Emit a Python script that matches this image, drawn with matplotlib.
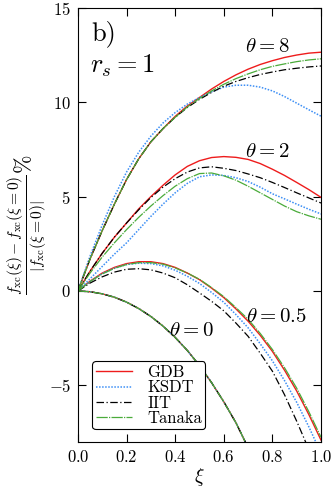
import numpy as np
import matplotlib
matplotlib.use("Agg")
import matplotlib.pyplot as plt

plt.rcParams['font.family'] = 'serif'
plt.rcParams['font.serif'] = ['cmr10']
plt.rcParams['mathtext.fontset'] = 'cm'
plt.rcParams['axes.formatter.use_mathtext'] = True

#%% data (relative change in %)
xi = [0.0, 0.05, 0.1, 0.15, 0.2, 0.25, 0.3, 0.35, 0.4, 0.45, 0.5,
      0.55, 0.6, 0.65, 0.7, 0.75, 0.8, 0.85, 0.9, 0.95, 1.0]

# theta = 8
gdb_t8 = [0, 1.7, 3.2, 4.6, 5.9, 7.0, 7.9, 8.6, 9.25, 9.8, 10.25,
          10.7, 11.1, 11.45, 11.75, 12.0, 12.2, 12.37, 12.5, 12.6, 12.65]
ksdt_t8 = [0, 1.85, 3.5, 5.0, 6.3, 7.35, 8.2, 8.9, 9.45, 9.9, 10.25,
           10.55, 10.8, 10.9, 10.9, 10.8, 10.6, 10.3, 9.95, 9.6, 9.26]
iit_t8 = [0, 1.7, 3.2, 4.6, 5.9, 7.0, 7.9, 8.6, 9.2, 9.72, 10.15,
          10.52, 10.85, 11.1, 11.3, 11.47, 11.6, 11.72, 11.8, 11.87, 11.92]
tanaka_t8 = [0, 1.7, 3.2, 4.6, 5.9, 7.0, 7.9, 8.6, 9.2, 9.75, 10.2,
             10.6, 10.95, 11.25, 11.5, 11.72, 11.9, 12.03, 12.15, 12.24, 12.3]

# theta = 2
gdb_t2 = [0, 1.05, 2.0, 2.85, 3.6, 4.35, 5.0, 5.6, 6.15, 6.6, 6.9,
          7.07, 7.12, 7.08, 6.97, 6.75, 6.45, 6.12, 5.75, 5.37, 4.96]
ksdt_t2 = [0, 0.65, 1.3, 1.95, 2.55, 3.25, 3.95, 4.6, 5.2, 5.7, 6.05,
           6.15, 6.12, 6.0, 5.8, 5.5, 5.15, 4.88, 4.6, 4.33, 4.08]
iit_t2 = [0, 1.05, 2.0, 2.85, 3.6, 4.3, 4.95, 5.5, 5.95, 6.3, 6.52,
          6.58, 6.5, 6.38, 6.2, 6.0, 5.75, 5.48, 5.2, 4.93, 4.66]
tanaka_t2 = [0, 0.95, 1.8, 2.55, 3.25, 3.9, 4.5, 5.05, 5.55, 5.95, 6.22,
             6.25, 6.1, 5.87, 5.55, 5.2, 4.85, 4.5, 4.2, 3.98, 3.8]

# theta = 0.5
gdb_t05 = [0, 0.52, 0.95, 1.25, 1.45, 1.55, 1.55, 1.45, 1.25, 0.95, 0.6,
           0.15, -0.35, -0.95, -1.6, -2.35, -3.2, -4.2, -5.3, -6.55, -7.9]
ksdt_t05 = [0, 0.5, 0.92, 1.2, 1.4, 1.47, 1.45, 1.33, 1.1, 0.78, 0.4,
            -0.08, -0.6, -1.25, -1.95, -2.8, -3.7, -4.75, -5.9, -7.2, -8.6]
iit_t05 = [0, 0.42, 0.75, 1.0, 1.15, 1.18, 1.12, 0.95, 0.7, 0.33, -0.1,
           -0.55, -1.05, -1.7, -2.4, -3.3, -4.25, -5.5, -6.9, -8.4, -10.0]
tanaka_t05 = [0, 0.5, 0.9, 1.2, 1.4, 1.5, 1.5, 1.42, 1.22, 0.95, 0.62,
              0.18, -0.3, -0.88, -1.5, -2.25, -3.1, -4.07, -5.15, -6.4, -7.75]

# theta = 0 (all models lie on top of each other)
all_t0 = [0, -0.04, -0.15, -0.33, -0.59, -0.93, -1.35, -1.86, -2.46, -3.15, -3.95,
          -4.86, -5.87, -6.98, -8.3, -9.6, -11.0, -12.5, -14.0, -15.7, -17.5]

models = ["GDB", "KSDT", "IIT", "Tanaka"]
series = {
    "GDB": [gdb_t8, gdb_t2, gdb_t05, all_t0],
    "KSDT": [ksdt_t8, ksdt_t2, ksdt_t05, all_t0],
    "IIT": [iit_t8, iit_t2, iit_t05, all_t0],
    "Tanaka": [tanaka_t8, tanaka_t2, tanaka_t05, all_t0],
}
styles = {
    "GDB": dict(color="#ee1c1c", ls="-", lw=1.0),
    "KSDT": dict(color="#3d8ff5", ls=(0, (1, 1)), lw=1.1),
    "IIT": dict(color="black", ls=(0, (6, 2, 1, 2)), lw=0.9),
    "Tanaka": dict(color="#4aab3a", ls=(0, (9, 1, 1, 1)), lw=0.9),
}

fig = plt.figure(figsize=(3.33, 4.9), dpi=100)
ax = fig.add_axes([0.234, 0.098, 0.73, 0.886])

for m in models:
    for i, ys in enumerate(series[m]):
        ax.plot(xi, ys, label=m if i == 0 else None, **styles[m])

ax.set_xlim(0, 1)
ax.set_ylim(-8, 15)
ax.set_xticks([0.0, 0.2, 0.4, 0.6, 0.8, 1.0])
ax.set_yticks([-5, 0, 5, 10, 15])
ax.tick_params(direction="in", top=True, right=True, length=5.5, width=0.8,
               labelsize=12, pad=5)
for s in ax.spines.values():
    s.set_linewidth(0.8)

ax.set_xlabel(r"$\xi$", fontsize=14, labelpad=1)
ax.set_ylabel(r"$\frac{f_{\rm xc}(\xi)-f_{\rm xc}(\xi=0)}{|f_{\rm xc}(\xi=0)|}\%$",
              fontsize=16)
ax.yaxis.set_label_coords(-0.125, 0.5)

ax.text(0.055, 0.94, "b)", transform=ax.transAxes, fontsize=19, va="center")
ax.text(0.05, 0.866, r"$r_s = 1$", transform=ax.transAxes, fontsize=19, va="center")

ax.text(0.78, 12.9, r"$\theta = 8$", fontsize=15, ha="center", va="center")
ax.text(0.78, 7.35, r"$\theta = 2$", fontsize=15, ha="center", va="center")
ax.text(0.815, -1.4, r"$\theta = 0.5$", fontsize=15, ha="center", va="center")
ax.text(0.465, -2.1, r"$\theta = 0$", fontsize=15, ha="center", va="center")

leg = ax.legend(loc="lower left", bbox_to_anchor=(0.025, 0.01), fontsize=12,
                handlelength=2.2, labelspacing=0.0, borderpad=0.2,
                handletextpad=0.9, framealpha=1, fancybox=True)
leg.get_frame().set_edgecolor("black")
leg.get_frame().set_linewidth(0.8)

fig.savefig("out.png", dpi=100)
